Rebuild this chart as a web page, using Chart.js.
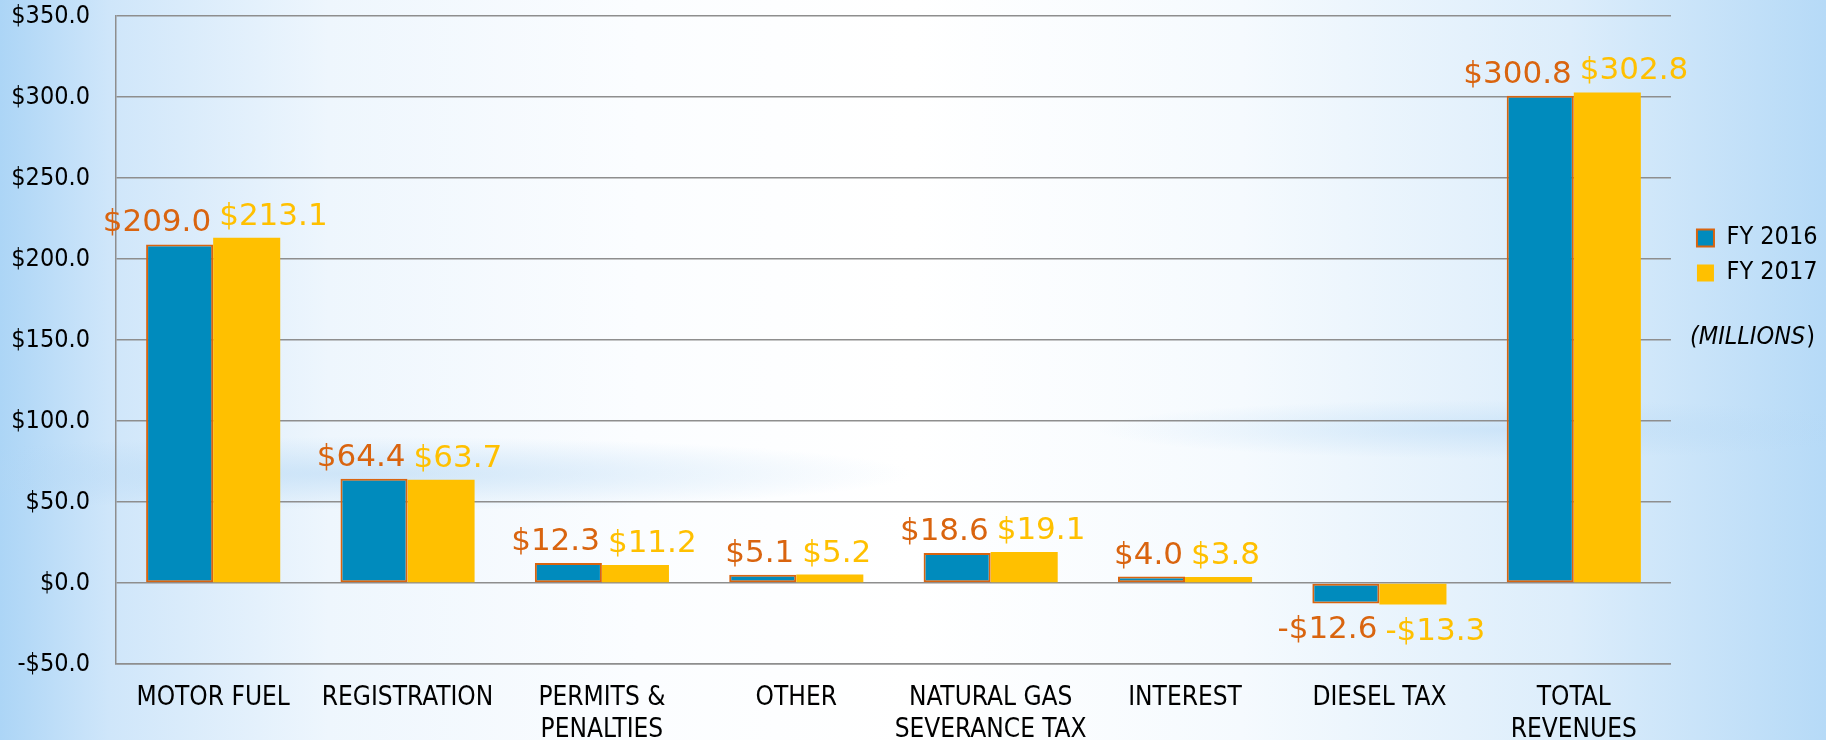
<!DOCTYPE html>
<html>
<head>
<meta charset="utf-8">
<script src="https://cdn.jsdelivr.net/npm/chart.js@4/dist/chart.umd.min.js"></script>
<style>
  html, body { margin: 0; padding: 0; overflow: hidden; width: 1826px; height: 740px; }
  body {
    background:
      radial-gradient(ellipse 30% 5% at 20% 64%, rgba(178,214,244,0.55), rgba(178,214,244,0)),
      radial-gradient(ellipse 22% 4% at 82% 58%, rgba(178,214,244,0.45), rgba(178,214,244,0)),
      linear-gradient(to right, #acd5f6 0%, #cfe6fa 6%, #eef6fd 18%, #fbfdff 35%, #ffffff 50%, #f5fafe 68%, #dcedfb 86%, #b6daf7 100%);
  }
  canvas { display: block; }
</style>
</head>
<body>
<!-- canvas is a bit taller than the window so the second label row gets cut like the original -->
<canvas id="revenue-chart" width="1826" height="764"></canvas>
<script>
var categories = [
    'MOTOR FUEL',
    'REGISTRATION',
    ['PERMITS &', 'PENALTIES'],
    'OTHER',
    ['NATURAL GAS', 'SEVERANCE TAX'],
    'INTEREST',
    'DIESEL TAX',
    ['TOTAL', 'REVENUES']
];
var fy2016 = [209.0, 64.4, 12.3, 5.1, 18.6, 4.0, -12.6, 300.8];
var fy2017 = [213.1, 63.7, 11.2, 5.2, 19.1, 3.8, -13.3, 302.8];
var seriesNames = ['FY 2016', 'FY 2017'];
var yTicks = [-50, 0, 50, 100, 150, 200, 250, 300, 350];
var unitNote = 'MILLIONS';

var blue = '#008bbd';
var orange = '#d9640f';
var yellow = '#ffc000';
var gridColor = '#8e8e8e';
var condensed = '"DejaVu Sans Condensed", "DejaVu Sans", sans-serif';

function money(v) {
    var s = '$' + Math.abs(v).toFixed(1);
    return v < 0 ? '-' + s : s;
}

// value labels over/under each bar, pushed apart like the original
const valueLabels = {
    id: 'valueLabels',
    afterDatasetsDraw(chart) {
        const ctx = chart.ctx;
        ctx.save();
        ctx.font = '31px "DejaVu Sans", sans-serif';
        ctx.textBaseline = 'alphabetic';
        chart.data.datasets.forEach((ds, i) => {
            const meta = chart.getDatasetMeta(i);
            meta.data.forEach((bar, j) => {
                const v = ds.data[j];
                const half = bar.width / 2;
                let x;
                if (i === 0) {
                    ctx.textAlign = 'right';
                    x = bar.x + half - 2;
                } else {
                    ctx.textAlign = 'left';
                    x = bar.x - half + 6;
                }
                const y = v >= 0 ? bar.y - 13 : bar.y + 35;
                ctx.fillStyle = i === 0 ? orange : yellow;
                ctx.fillText(money(v), x, y);
            });
        });
        ctx.restore();
    }
};

// nudge legend to the right and write the unit note under it
const legendNote = {
    id: 'legendNote',
    afterLayout(chart) {
        const lg = chart.legend;
        lg.left += 16;
        lg.right += 16;
    },
    afterDraw(chart) {
        const lg = chart.legend;
        const ctx = chart.ctx;
        const x = lg.left + 3;
        const y = 344;
        ctx.save();
        ctx.fillStyle = '#000';
        ctx.textAlign = 'left';
        ctx.textBaseline = 'alphabetic';
        ctx.font = 'italic 25px ' + condensed;
        const t = '(' + unitNote;
        ctx.fillText(t, x, y);
        const w = ctx.measureText(t).width;
        ctx.font = '25px ' + condensed;
        ctx.fillText(')', x + w + 1, y);
        ctx.restore();
    }
};

const el = document.getElementById('revenue-chart');
new Chart(el, {
    type: 'bar',
    data: {
        labels: categories,
        datasets: [
            {
                label: seriesNames[0],
                data: fy2016,
                backgroundColor: blue,
                borderColor: orange,
                borderWidth: 2,
                borderSkipped: false
            },
            {
                label: seriesNames[1],
                data: fy2017,
                backgroundColor: yellow,
                borderWidth: 0
            }
        ]
    },
    options: {
        responsive: false,
        animation: false,
        events: [],
        categoryPercentage: 0.69,
        barPercentage: 1.0,
        layout: {
            padding: { top: 16, left: 10.3, right: 14.5, bottom: 0 }
        },
        scales: {
            x: {
                grid: { display: false, drawTicks: false },
                border: { display: true, color: gridColor, width: 1.5 },
                ticks: {
                    color: '#000',
                    padding: 18,
                    maxRotation: 0,
                    autoSkip: false,
                    font: { family: condensed, size: 26, lineHeight: 1.23 }
                }
            },
            y: {
                min: -50,
                max: 350,
                afterBuildTicks: (scale) => {
                    scale.ticks = yTicks.map(v => ({ value: v }));
                },
                grid: { color: gridColor, lineWidth: 1.5, tickLength: 25, tickColor: 'rgba(0,0,0,0)' },
                border: { display: true, color: gridColor, width: 1.5 },
                ticks: {
                    color: '#000',
                    padding: 1,
                    callback: (v) => money(v),
                    font: { family: condensed, size: 25 }
                }
            }
        },
        plugins: {
            tooltip: { enabled: false },
            legend: {
                position: 'right',
                align: 'start',
                title: {
                    display: true,
                    text: ' ',
                    font: { size: 12 },
                    padding: { top: 185, bottom: 0 }
                },
                labels: {
                    color: '#000',
                    boxWidth: 17,
                    boxHeight: 17,
                    padding: 10,
                    font: { family: condensed, size: 25 }
                }
            }
        }
    },
    plugins: [valueLabels, legendNote]
});
</script>
</body>
</html>
